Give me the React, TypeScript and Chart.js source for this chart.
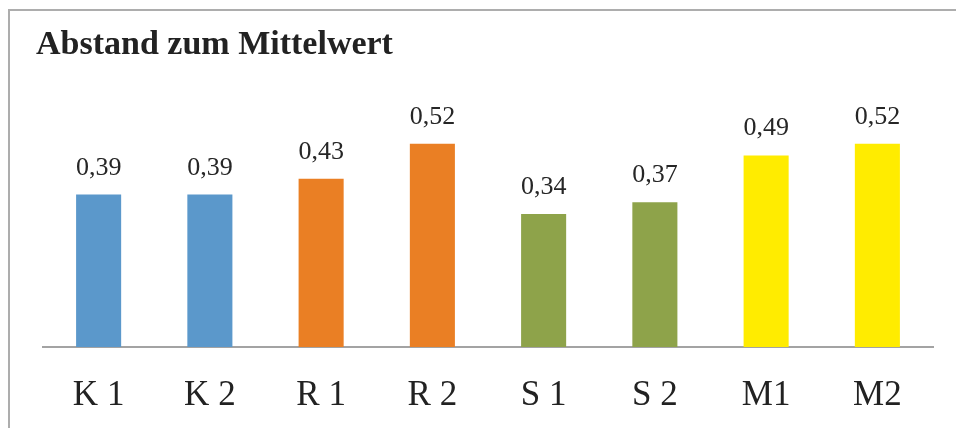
import React, { useEffect, useRef } from "react";
import { Chart, registerables } from "chart.js";

Chart.register(...registerables);

const categories = ["K 1", "K 2", "R 1", "R 2", "S 1", "S 2", "M1", "M2"];
const values = [0.39, 0.39, 0.43, 0.52, 0.34, 0.37, 0.49, 0.52];
const valueLabels = ["0,39", "0,39", "0,43", "0,52", "0,34", "0,37", "0,49", "0,52"];
const barColors = ["#5B98CB", "#5B98CB", "#EA7F24", "#EA7F24", "#8EA34A", "#8EA34A", "#FFEC00", "#FFEC00"];
const titleText = "Abstand zum Mittelwert";

const FONT = "'Liberation Serif', 'Times New Roman', serif";

const valueLabelPlugin = {
  id: "valueLabels",
  afterDatasetsDraw(chart: any) {
    const ctx = chart.ctx;
    const meta = chart.getDatasetMeta(0);
    ctx.save();
    ctx.font = `26px ${FONT}`;
    ctx.fillStyle = "#262626";
    ctx.textAlign = "center";
    ctx.textBaseline = "alphabetic";
    meta.data.forEach((bar: any, i: number) => {
      ctx.fillText(valueLabels[i], bar.x, bar.y - 20);
    });
    ctx.restore();
  },
};

export default function App() {
  const ref = useRef<HTMLCanvasElement | null>(null);
  useEffect(() => {
    if (!ref.current) return;
    const chart = new Chart(ref.current, {
      type: "bar",
      data: {
        labels: categories,
        datasets: [
          {
            data: values,
            backgroundColor: barColors,
            categoryPercentage: 1,
            barPercentage: 0.405,
          },
        ],
      },
      options: {
        animation: false,
        responsive: false,
        maintainAspectRatio: false,
        layout: { padding: { left: 26, right: 23, top: 0, bottom: 0 } },
        plugins: {
          legend: { display: false },
          tooltip: { enabled: false },
          title: {
            display: true,
            text: titleText,
            align: "start",
            color: "#222222",
            font: { family: FONT, size: 34, weight: "bold", lineHeight: 1.2 },
            padding: { top: 14.1, bottom: 46.5 },
          },
        },
        scales: {
          x: {
            grid: { display: false, drawTicks: false },
            border: { display: true, color: "#A3A3A3", width: 2 },
            ticks: { color: "#222222", font: { family: FONT, size: 35, lineHeight: 1.2 }, padding: 28, maxRotation: 0, autoSkip: false },
            afterFit: (scale: any) => {
              scale.height = 81;
            },
          },
          y: {
            min: 0,
            max: 0.6,
            grid: { display: false },
            border: { display: false },
            ticks: { display: false },
            afterFit: (scale: any) => {
              scale.width = 7;
            },
          },
        },
      },
      plugins: [valueLabelPlugin],
    });
    return () => chart.destroy();
  }, []);
  return (
    <div
      style={{
        position: "absolute",
        top: 9,
        left: 8,
        width: 946,
        height: 417,
        borderTop: "2px solid #ADADAD",
        borderLeft: "2px solid #ADADAD",
        background: "#fff",
      }}
    >
      <canvas ref={ref} width={946} height={417} style={{ display: "block" }} />
    </div>
  );
}
